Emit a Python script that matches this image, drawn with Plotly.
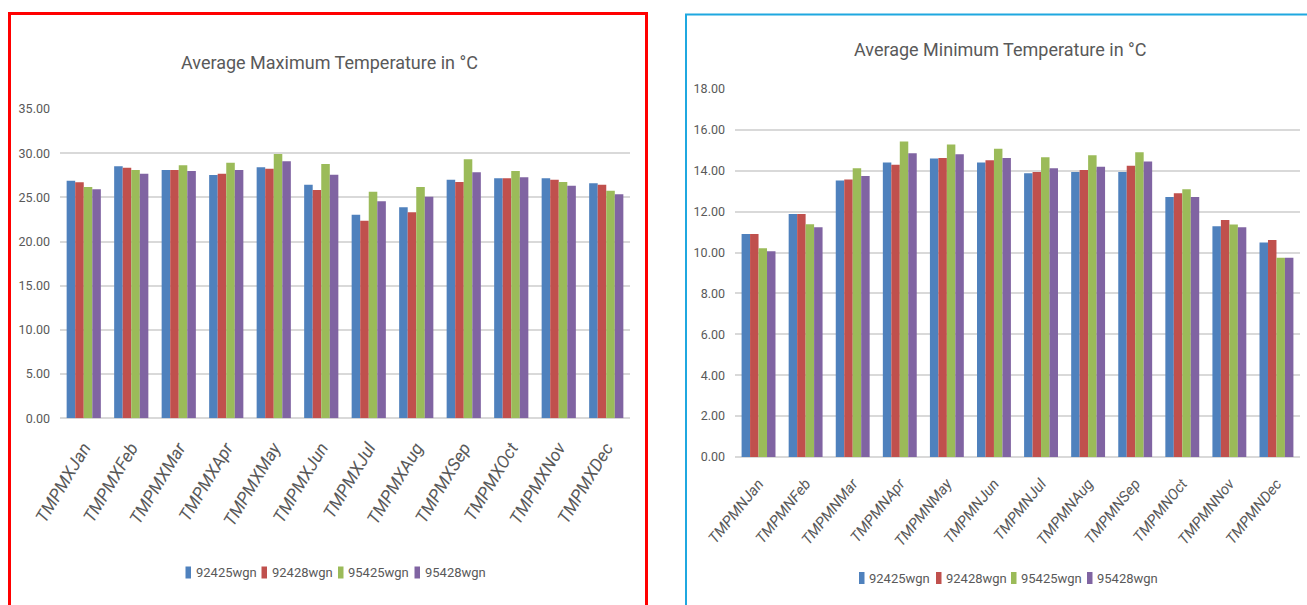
import plotly.graph_objects as go

# Category labels for the two charts
max_labels = ["TMPMXJan", "TMPMXFeb", "TMPMXMar", "TMPMXApr", "TMPMXMay", "TMPMXJun",
              "TMPMXJul", "TMPMXAug", "TMPMXSep", "TMPMXOct", "TMPMXNov", "TMPMXDec"]
min_labels = ["TMPMNJan", "TMPMNFeb", "TMPMNMar", "TMPMNApr", "TMPMNMay", "TMPMNJun",
              "TMPMNJul", "TMPMNAug", "TMPMNSep", "TMPMNOct", "TMPMNNov", "TMPMNDec"]

series_names = ["92425wgn", "92428wgn", "95425wgn", "95428wgn"]

# Average maximum temperature (°C) per station
tmax_92425 = [26.88, 28.51, 28.09, 27.53, 28.40, 26.43, 23.04, 23.87, 27.00, 27.16, 27.16, 26.59]
tmax_92428 = [26.70, 28.36, 28.09, 27.68, 28.24, 25.83, 22.36, 23.31, 26.74, 27.16, 27.00, 26.43]
tmax_95425 = [26.17, 28.09, 28.63, 28.92, 29.90, 28.77, 25.64, 26.17, 29.30, 27.98, 26.74, 25.75]
tmax_95428 = [25.91, 27.68, 27.98, 28.09, 29.08, 27.56, 24.55, 25.07, 27.83, 27.27, 26.32, 25.34]

# Average minimum temperature (°C) per station
tmin_92425 = [10.91, 11.89, 13.52, 14.40, 14.60, 14.40, 13.88, 13.94, 13.94, 12.72, 11.29, 10.49]
tmin_92428 = [10.91, 11.89, 13.57, 14.30, 14.63, 14.51, 13.94, 14.04, 14.25, 12.90, 11.59, 10.62]
tmin_95425 = [10.21, 11.38, 14.12, 15.43, 15.28, 15.08, 14.66, 14.76, 14.91, 13.10, 11.37, 9.74]
tmin_95428 = [10.06, 11.24, 13.75, 14.86, 14.81, 14.63, 14.12, 14.20, 14.45, 12.72, 11.24, 9.74]

colors = ["#4F81BD", "#C0504D", "#9BBB59", "#8064A2"]

W, H = 1307, 605
FONT = "Roboto, Liberation Sans, sans-serif"
TXT = "#595959"
GRID = "#D9D9D9"


def px(x):
    return x / W


def py(y):
    return 1 - y / H


fig = go.Figure()

for name, vals, col in zip(series_names, [tmax_92425, tmax_92428, tmax_95425, tmax_95428], colors):
    fig.add_trace(go.Bar(x=max_labels, y=vals, name=name, marker=dict(color=col, line=dict(width=0)),
                         xaxis="x", yaxis="y", showlegend=False))

for name, vals, col in zip(series_names, [tmin_92425, tmin_92428, tmin_95425, tmin_95428], colors):
    fig.add_trace(go.Bar(x=min_labels, y=vals, name=name, marker=dict(color=col, line=dict(width=0)),
                         xaxis="x2", yaxis="y2", showlegend=False))

ytick_font = dict(family=FONT, size=12.5, color=TXT)

fig.update_layout(
    width=W, height=H,
    margin=dict(l=0, r=0, t=0, b=0, autoexpand=False),
    paper_bgcolor="white", plot_bgcolor="white",
    barmode="group", bargap=0.28, bargroupgap=0,
    xaxis=dict(domain=[px(60), px(630)], anchor="y", showgrid=False, showline=False, automargin=False,
               ticks="", tickangle=-59, ticklabelstandoff=15,
               tickfont=dict(family=FONT, size=17.5, color=TXT, style="italic")),
    yaxis=dict(domain=[py(418.3), py(109)], anchor="x", range=[0, 35], dtick=5, automargin=False,
               tickformat=".2f", showgrid=True, gridcolor=GRID, gridwidth=1.5,
               zeroline=True, zerolinecolor=GRID, zerolinewidth=1.5,
               ticks="", tickfont=ytick_font, ticklabelstandoff=9),
    xaxis2=dict(domain=[px(735), px(1300)], anchor="y2", showgrid=False, showline=False, automargin=False,
                ticks="", tickangle=-51, ticklabelstandoff=14,
                tickfont=dict(family=FONT, size=15, color=TXT, style="italic")),
    yaxis2=dict(domain=[py(457), py(89)], anchor="x2", range=[0, 18], dtick=2, automargin=False,
                tickformat=".2f", showgrid=True, gridcolor=GRID, gridwidth=1.5,
                zeroline=True, zerolinecolor=GRID, zerolinewidth=1.5,
                ticks="", tickfont=ytick_font, ticklabelstandoff=9),
)

# Chart titles
fig.add_annotation(text="Average Maximum Temperature in °C", x=px(329), y=py(62),
                   xref="paper", yref="paper", xanchor="center", yanchor="middle",
                   showarrow=False, font=dict(family=FONT, size=18, color=TXT))
fig.add_annotation(text="Average Minimum Temperature in °C", x=px(1001), y=py(50),
                   xref="paper", yref="paper", xanchor="center", yanchor="middle",
                   showarrow=False, font=dict(family=FONT, size=18, color=TXT))

# Legend rows beneath each chart: small colour swatch followed by the series name
legend_rows = [
    (py(572.5), [185.5, 261.5, 338.0, 414.5]),
    (py(578.0), [859.0, 936.0, 1011.0, 1087.0]),
]
for yc, xs in legend_rows:
    for name, col, x in zip(series_names, colors, xs):
        fig.add_shape(type="rect", xref="paper", yref="paper",
                      x0=px(x), x1=px(x + 5.5), y0=yc - 6 / H, y1=yc + 6 / H,
                      line=dict(width=0), fillcolor=col)
        fig.add_annotation(text=name, x=px(x + 8), y=yc, xref="paper", yref="paper",
                           xanchor="left", yanchor="middle", showarrow=False,
                           font=dict(family=FONT, size=13, color=TXT))

# Panel frames
fig.add_shape(type="rect", xref="paper", yref="paper",
              x0=px(9.5), x1=px(646.5), y0=py(640), y1=py(13.5),
              line=dict(color="#FF0000", width=3), fillcolor="rgba(0,0,0,0)", layer="above")
fig.add_shape(type="rect", xref="paper", yref="paper",
              x0=px(686), x1=px(1330), y0=py(640), y1=py(14.5),
              line=dict(color="#1FA8E0", width=2), fillcolor="rgba(0,0,0,0)", layer="above")

fig.write_html("out.html")
